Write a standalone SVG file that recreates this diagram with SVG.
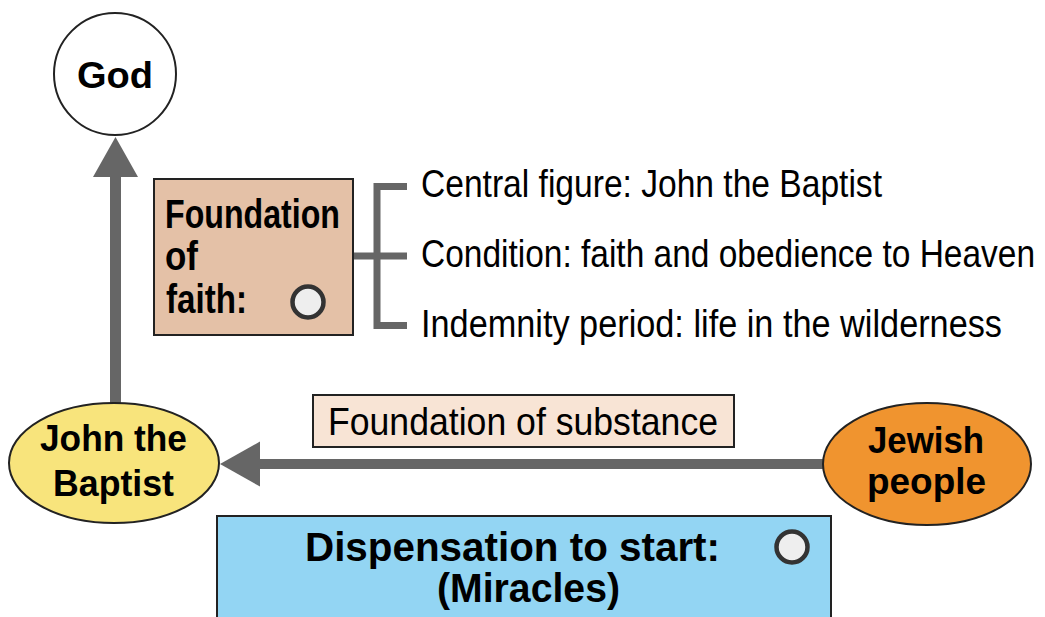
<svg xmlns="http://www.w3.org/2000/svg" width="1045" height="617" viewBox="0 0 1045 617">
<style>
text{font-family:"Liberation Sans Narrow","Liberation Sans",Arial,sans-serif;fill:#000}
.b{font-weight:bold;font-size:40px}
.bs{font-weight:bold;font-size:37px}
.r{font-size:39px}
.node{stroke:#222;stroke-width:2}
.conn{stroke:#666;fill:none}
.dot{fill:#eeeeee;stroke:#333;stroke-width:4.5}
</style>
<g id="connectors">
<line class="conn" x1="115.5" y1="176" x2="115.5" y2="404" stroke-width="11"/>
<polygon points="115.5,137 93,177 138,177" fill="#666"/>
<line class="conn" x1="248" y1="464" x2="826" y2="464" stroke-width="10"/>
<polygon points="220,464 260,441.5 260,486.5" fill="#666"/>
<path class="conn" d="M353,256 H377 M407,186.5 H377 V325.5 H407 M377,256 H407" stroke-width="7"/>
</g>
<g id="god">
<circle class="node" cx="115" cy="74" r="61" fill="#fff"/>
<text x="115" y="88" text-anchor="middle" style="font-family:'Liberation Sans',Arial,sans-serif;font-weight:bold;font-size:37px" textLength="76" lengthAdjust="spacingAndGlyphs">God</text>
</g>
<g id="foundation-of-faith">
<rect class="node" x="154" y="179" width="199" height="156" fill="#e4c1a7"/>
<text class="b" x="165" y="228" textLength="175" lengthAdjust="spacingAndGlyphs">Foundation</text>
<text class="b" x="165" y="270" textLength="33" lengthAdjust="spacingAndGlyphs">of</text>
<text class="b" x="166" y="313" textLength="81" lengthAdjust="spacingAndGlyphs">faith:</text>
<circle class="dot" cx="308" cy="302" r="15.5"/>
</g>
<g id="details">
<text class="r" x="421" y="197" textLength="461" lengthAdjust="spacingAndGlyphs">Central figure: John the Baptist</text>
<text class="r" x="421" y="267" textLength="614" lengthAdjust="spacingAndGlyphs">Condition: faith and obedience to Heaven</text>
<text class="r" x="421" y="337" textLength="581" lengthAdjust="spacingAndGlyphs">Indemnity period: life in the wilderness</text>
</g>
<g id="foundation-of-substance">
<rect class="node" x="313" y="395" width="421" height="52" fill="#f8e4d5"/>
<text class="r" x="328" y="435" textLength="390" lengthAdjust="spacingAndGlyphs">Foundation of substance</text>
</g>
<g id="john-the-baptist">
<ellipse class="node" cx="114" cy="463" rx="105" ry="60" fill="#f8e47c"/>
<text class="bs" x="40" y="451" textLength="147" lengthAdjust="spacingAndGlyphs">John the</text>
<text class="bs" x="53" y="496" textLength="121" lengthAdjust="spacingAndGlyphs">Baptist</text>
</g>
<g id="jewish-people">
<ellipse class="node" cx="927" cy="464" rx="104" ry="61" fill="#f0942f"/>
<text class="bs" x="868" y="453" textLength="116" lengthAdjust="spacingAndGlyphs">Jewish</text>
<text class="bs" x="867" y="494" textLength="119" lengthAdjust="spacingAndGlyphs">people</text>
</g>
<g id="dispensation">
<rect class="node" x="217" y="516" width="614" height="110" fill="#93d5f3"/>
<text class="b" x="305" y="561" textLength="415" lengthAdjust="spacingAndGlyphs">Dispensation to start:</text>
<text class="b" x="437" y="602" textLength="183" lengthAdjust="spacingAndGlyphs">(Miracles)</text>
<circle class="dot" cx="792" cy="547" r="15.5"/>
</g>
</svg>
